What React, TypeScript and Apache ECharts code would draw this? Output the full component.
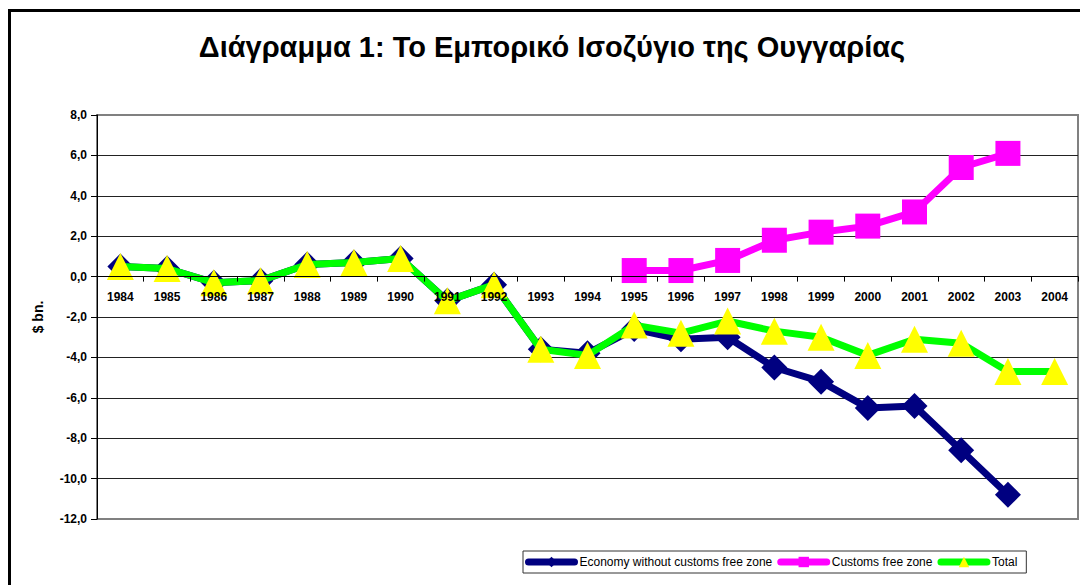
import React, { useEffect, useRef } from "react";
import * as echarts from "echarts";

const years = ["1984","1985","1986","1987","1988","1989","1990","1991","1992","1993","1994","1995","1996","1997","1998","1999","2000","2001","2002","2003","2004"];
const economy = [0.5, 0.4, -0.3, -0.2, 0.6, 0.7, 0.9, -1.2, -0.4, -3.6, -3.8, -2.6, -3.1, -3.0, -4.5, -5.2, -6.5, -6.4, -8.6, -10.8, null];
const customs = [null, null, null, null, null, null, null, null, null, null, null, 0.3, 0.3, 0.8, 1.8, 2.2, 2.5, 3.2, 5.4, 6.1, null];
const total = [0.5, 0.4, -0.3, -0.2, 0.6, 0.7, 0.9, -1.2, -0.4, -3.6, -3.9, -2.4, -2.8, -2.2, -2.7, -3.0, -3.9, -3.1, -3.3, -4.7, -4.7];
const seriesNames = ["Economy without customs free zone", "Customs free zone", "Total"];
const titleText = "Διάγραμμα 1: Το Εμπορικό Ισοζύγιο της Ουγγαρίας";
const yAxisName = "$ bn.";
const yMin = -12;
const yMax = 8;
const yStep = 2;

export default function App() {
  const ref = useRef<HTMLDivElement>(null);
  useEffect(() => {
    if (!ref.current) return;
    const chart = echarts.init(ref.current, null, { renderer: "svg" });
    const font = '"Liberation Sans", Arial, sans-serif';
    const gridTop = 115;
    const gridBottom = 66;
    const plotH = 585 - gridTop - gridBottom;
    const zeroY = gridTop + (yMax / (yMax - yMin)) * plotH;
    const xOffset = -(585 - gridBottom - zeroY);
    const nTicks = Math.round((yMax - yMin) / yStep) + 1;
    const gridColors = Array.from({ length: nTicks }, (_, i) => (i === 0 || i === nTicks - 1 ? "#808080" : "#222"));
    chart.setOption({
      animation: false,
      backgroundColor: "#fff",
      textStyle: { fontFamily: font },
      graphic: [
        {
          type: "rect",
          shape: { x: 9.5, y: 10.5, width: 1200, height: 800 },
          style: { fill: "none", stroke: "#000", lineWidth: 3 },
          silent: true,
        },
        {
          type: "text",
          x: 552,
          y: 47,
          style: {
            text: titleText,
            font: `bold 29px ${font}`,
            fill: "#000",
            textAlign: "center",
            textVerticalAlign: "middle",
          },
        },
      ],
      grid: {
        left: 97,
        top: gridTop,
        right: 2,
        bottom: gridBottom,
        show: true,
        borderColor: "#808080",
        borderWidth: 2,
        containLabel: false,
      },
      legend: {
        left: 523,
        top: 551,
        orient: "horizontal",
        itemWidth: 46,
        itemHeight: 13,
        itemGap: 5,
        padding: [5, 9, 5, 2],
        borderColor: "#333",
        borderWidth: 1,
        borderRadius: 0,
        textStyle: { fontFamily: font, fontSize: 12, color: "#000" },
        lineStyle: { width: 7, cap: "round" },
        data: seriesNames,
      },
      xAxis: {
        type: "category",
        data: years,
        boundaryGap: true,
        position: "bottom",
        offset: xOffset,
        axisLine: { onZero: false, lineStyle: { color: "#000", width: 1 } },
        axisTick: { show: true, interval: 0, length: 5, lineStyle: { color: "#000" } },
        axisLabel: { interval: 0, margin: 14, fontSize: 12, fontWeight: "bold", color: "#000", fontFamily: font },
        splitLine: { show: false },
        z: 10,
      },
      yAxis: {
        type: "value",
        min: yMin,
        max: yMax,
        interval: yStep,
        name: yAxisName,
        nameLocation: "middle",
        nameGap: 52,
        nameRotate: 90,
        nameTextStyle: { fontSize: 14, fontWeight: "bold", color: "#000", fontFamily: font },
        axisLine: { show: true, lineStyle: { color: "#000", width: 1 } },
        axisTick: { show: true, length: 6, lineStyle: { color: "#000" } },
        axisLabel: {
          margin: 10,
          fontSize: 12,
          fontWeight: "bold",
          color: "#000",
          fontFamily: font,
          formatter: (v: number) => v.toFixed(1).replace(".", ","),
        },
        splitLine: { show: true, lineStyle: { color: gridColors, width: 1 } },
      },
      series: [
        {
          name: seriesNames[0],
          type: "line",
          data: economy,
          symbol: "diamond",
          symbolSize: 26,
          showAllSymbol: true,
          connectNulls: false,
          lineStyle: { color: "#000080", width: 7 },
          itemStyle: { color: "#000080" },
          z: 2,
        },
        {
          name: seriesNames[1],
          type: "line",
          data: customs,
          symbol: "rect",
          symbolSize: 25,
          showAllSymbol: true,
          lineStyle: { color: "#FF00FF", width: 7 },
          itemStyle: { color: "#FF00FF" },
          z: 3,
        },
        {
          name: seriesNames[2],
          type: "line",
          data: total,
          symbol: "triangle",
          symbolSize: 27,
          showAllSymbol: true,
          lineStyle: { color: "#00FF00", width: 7 },
          itemStyle: { color: "#FFFF00" },
          z: 4,
        },
      ],
    });
    return () => chart.dispose();
  }, []);
  return (
    <div
      ref={ref}
      style={{ position: "fixed", left: 0, top: 0, width: 1080, height: 585, background: "#fff" }}
    />
  );
}
